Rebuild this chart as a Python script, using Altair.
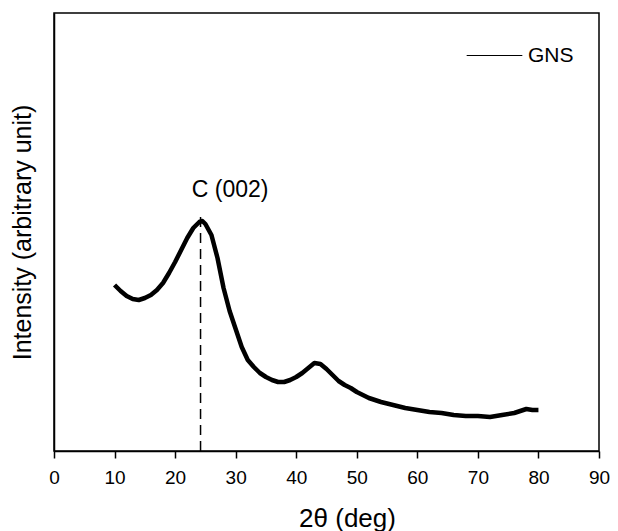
import altair as alt
import pandas as pd

# 2-theta (deg) and intensity (arbitrary units)
two_theta = [10, 11, 12, 13, 14, 15, 16, 17, 18, 19, 20, 21, 22, 23, 24, 24.5,
             25, 26, 27, 28, 29, 30, 31, 32, 33, 34, 35, 36, 37, 38, 39, 40,
             41, 42, 43, 44, 45, 46, 47, 48, 49, 50, 52, 54, 56, 58, 60, 62,
             64, 66, 68, 70, 72, 74, 76, 77, 78, 79, 80]
intensity = [166, 160, 155, 152, 151, 153, 156, 161, 168, 178, 189, 201, 213, 223, 229, 230,
             227, 216, 193, 163, 140, 122, 104, 91, 84, 78, 74, 71, 69, 69, 71, 74,
             78, 83, 88, 87, 82, 76, 70, 66, 63, 59, 53, 49, 46, 43, 41, 39,
             38, 36, 35, 35, 34, 36, 38, 40, 42, 41, 41]
series_name = "GNS"

peak_x = [24.2]
peak_top = [236]
peak_label = ["C (002)"]
label_x = [22.75]
label_y = [254]

FONT = "Liberation Sans"

df = pd.DataFrame({"x": two_theta, "y": intensity, "s": series_name})
peak_df = pd.DataFrame({"x": peak_x, "y": [0], "y2": peak_top})
label_df = pd.DataFrame({"x": label_x, "y": label_y, "t": peak_label})

x_scale = alt.Scale(domain=[0, 90], nice=False, zero=False)
y_scale = alt.Scale(domain=[0, 438], nice=False, zero=False)

x_axis = alt.Axis(
    values=list(range(0, 91, 5)),
    labelExpr="datum.value % 10 === 0 ? datum.label : ''",
    tickSize={"condition": {"test": "datum.value % 10 === 0", "value": 7}, "value": 4},
    tickColor="black", tickWidth=1.5,
    domainColor="black", domainWidth=1.5,
    grid=False,
    labelFont=FONT, labelFontSize=19, labelColor="black", labelPadding=10,
    labelFlush=False,
    title="2θ (deg)", titleFont=FONT, titleFontSize=26, titleFontWeight="normal",
    titleColor="black", titleX=293, titleY=75, titleAlign="center",
    titleBaseline="alphabetic",
)
y_axis = alt.Axis(
    labels=False, ticks=False, grid=False,
    domainColor="black", domainWidth=1.5,
    title="Intensity (arbitrary unit)", titleFont=FONT, titleFontSize=25,
    titleFontWeight="normal", titleColor="black", titlePadding=19,
)

line = alt.Chart(df).mark_line(strokeWidth=4.5, strokeJoin="round").encode(
    x=alt.X("x:Q", scale=x_scale, axis=x_axis),
    y=alt.Y("y:Q", scale=y_scale, axis=y_axis),
    color=alt.Color(
        "s:N",
        scale=alt.Scale(domain=[series_name], range=["black"]),
        legend=alt.Legend(
            title=None, orient="none", legendX=412, legendY=14,
            symbolType="stroke", symbolSize=3100, symbolStrokeWidth=1,
            symbolStrokeColor="black",
            labelFont=FONT, labelFontSize=21, labelColor="black", labelOffset=5,
        ),
    ),
)

rule = alt.Chart(peak_df).mark_rule(color="black", strokeWidth=1.5, strokeDash=[10, 6]).encode(
    x="x:Q", y="y:Q", y2="y2:Q"
)

text = alt.Chart(label_df).mark_text(
    align="left", baseline="alphabetic", font=FONT, fontSize=23, color="black"
).encode(x="x:Q", y="y:Q", text="t:N")

chart = alt.layer(line, rule, text).properties(
    width=545, height=438,
    padding={"left": 46, "top": 5, "right": 11, "bottom": 80},
    autosize="none",
).configure_view(stroke="black", strokeWidth=1.5)

chart.save("out.html", embed_options={"renderer": "svg", "actions": False})
